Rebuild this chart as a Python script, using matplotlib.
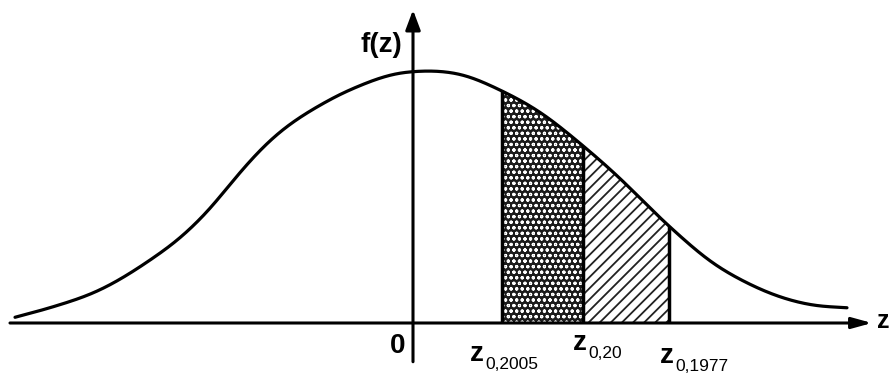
import numpy as np
import matplotlib
matplotlib.use("Agg")
import matplotlib.pyplot as plt
from matplotlib.patches import Polygon

plt.rcParams['font.family'] = ['Liberation Sans', 'DejaVu Sans']

# curve f(z) (hand-drawn normal density)
curve_z = [-2.211, -2.017, -1.739, -1.461, -1.294, -1.128, -1.000, -0.906, -0.811,
           -0.722, -0.628, -0.517, -0.406, -0.294, -0.183, -0.072, 0.000, 0.111,
           0.261, 0.483, 0.706, 0.928, 1.111, 1.428, 1.667, 1.856, 2.039, 2.222,
           2.411]
curve_f = [0.009, 0.024, 0.052, 0.099, 0.134, 0.180, 0.224, 0.255, 0.283,
           0.305, 0.324, 0.343, 0.360, 0.374, 0.386, 0.394, 0.396, 0.397,
           0.392, 0.367, 0.332, 0.283, 0.238, 0.151, 0.094, 0.063, 0.041, 0.028,
           0.024]

# quantile boundaries
bounds_z = [0.494, 0.944, 1.422]
bound_labels = ["0,2005", "0,20", "0,1977"]


def hermite(xs, ys, n=30):
    x = np.asarray(xs, float)
    y = np.asarray(ys, float)
    h = np.diff(x)
    d = np.diff(y) / h
    m = np.empty_like(y)
    m[1:-1] = (h[:-1] * d[1:] + h[1:] * d[:-1]) / (h[:-1] + h[1:])
    m[0], m[-1] = d[0], d[-1]
    X, Y = [], []
    t = np.linspace(0, 1, n, endpoint=False)
    for i in range(len(h)):
        h00 = 2 * t ** 3 - 3 * t ** 2 + 1
        h10 = t ** 3 - 2 * t ** 2 + t
        h01 = -2 * t ** 3 + 3 * t ** 2
        h11 = t ** 3 - t ** 2
        X.append(x[i] + t * h[i])
        Y.append(h00 * y[i] + h10 * h[i] * m[i] + h01 * y[i + 1] + h11 * h[i] * m[i + 1])
    X.append([x[-1]])
    Y.append([y[-1]])
    return np.concatenate(X), np.concatenate(Y)


def smooth_line(xs, ys, sigma=0.05, n=2400):
    hx, hy = hermite(xs, ys)
    zg = np.linspace(hx[0], hx[-1], n)
    fg = np.interp(zg, hx, hy)
    dz = zg[1] - zg[0]
    k = int(4 * sigma / dz)
    ker = np.exp(-0.5 * (np.arange(-k, k + 1) * dz / sigma) ** 2)
    ker /= ker.sum()
    left = 2 * fg[0] - fg[k:0:-1]
    right = 2 * fg[-1] - fg[-2:-k - 2:-1]
    fp = np.concatenate([left, fg, right])
    return zg, np.convolve(fp, ker, mode='valid')


sz, sf = smooth_line(curve_z, curve_f)

W, H = 890, 374
fig = plt.figure(figsize=(W / 100, H / 100), dpi=100)
ax = fig.add_axes([0, 0, 1, 1])
ax.set_xlim(-413 / 180, (W - 413) / 180)
ax.set_ylim((323 - H) / 635, 323 / 635)
ax.axis('off')


def region(z0, z1):
    m = (sz > z0) & (sz < z1)
    zz = np.concatenate([[z0], sz[m], [z1]])
    ff = np.concatenate([[np.interp(z0, sz, sf)], sf[m], [np.interp(z1, sz, sf)]])
    poly = np.column_stack([np.concatenate([[z0], zz, [z1]]),
                            np.concatenate([[0], ff, [0]])])
    return poly


poly1 = region(bounds_z[0], bounds_z[1])
poly2 = region(bounds_z[1], bounds_z[2])

# dotted region: dark ground with white dots
ax.add_patch(Polygon(poly1, closed=True, facecolor='#1c1c1c', edgecolor='none', linewidth=0))
with plt.rc_context({'hatch.linewidth': 0.8}):
    p1 = Polygon(poly1, closed=True, facecolor='none', edgecolor='white',
                 hatch='ooo', linewidth=0)
    if hasattr(p1, 'set_hatch_linewidth'):
        p1.set_hatch_linewidth(0.8)
    ax.add_patch(p1)
with plt.rc_context({'hatch.linewidth': 1.3}):
    p2 = Polygon(poly2, closed=True, facecolor='white', edgecolor='#222222',
                 hatch='///', linewidth=0)
    if hasattr(p2, 'set_hatch_linewidth'):
        p2.set_hatch_linewidth(1.3)
    ax.add_patch(p2)

# vertical boundary lines
for zb in bounds_z:
    ax.plot([zb, zb], [0, np.interp(zb, sz, sf)], color='black', lw=2.5,
            solid_capstyle='butt')

# curve
ax.plot(sz, sf, color='black', lw=2.3, solid_capstyle='round')

# axes with arrows
ax.annotate('', xy=(2.55, 0), xytext=(-2.239, 0),
            arrowprops=dict(arrowstyle='-|>,head_length=0.8,head_width=0.22',
                            mutation_scale=15, lw=2.2, color='black',
                            shrinkA=0, shrinkB=0))
ax.annotate('', xy=(0, 0.493), xytext=(0, -0.061),
            arrowprops=dict(arrowstyle='-|>,head_length=0.8,head_width=0.3',
                            mutation_scale=15, lw=2.2, color='black',
                            shrinkA=0, shrinkB=0))

# texts
ax.text(-0.294, 0.4268, 'f(z)', fontsize=20, fontweight='bold', ha='left', va='baseline')
ax.text(-0.128, -0.0472, '0', fontsize=20, fontweight='bold', ha='left', va='baseline')
ax.text(2.58, -0.0079, 'z', fontsize=18, fontweight='bold', ha='left', va='baseline')

z_pos = [(0.317, -0.060), (0.889, -0.0425), (1.372, -0.063)]
for (zx, fy), lab in zip(z_pos, bound_labels):
    ax.text(zx, fy, 'z', fontsize=20, fontweight='bold', ha='left', va='baseline')
    ax.text(zx + 0.083, fy - 0.012, lab, fontsize=12.5, ha='left', va='baseline')

fig.savefig('out.png', dpi=100)
